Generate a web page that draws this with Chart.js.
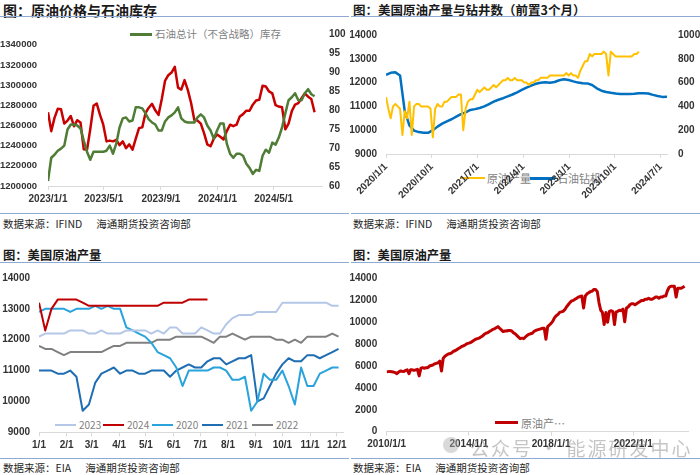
<!DOCTYPE html>
<html>
<head>
<meta charset="utf-8">
<script src="https://cdn.jsdelivr.net/npm/chart.js@4.4.1/dist/chart.umd.min.js"></script>
<style>
  body { margin: 0; background: #fff; }
  #page { position: relative; width: 700px; height: 475px; overflow: hidden; font-family: "Noto Sans CJK SC", "Liberation Sans", sans-serif; }
  .title { position: absolute; font-weight: bold; color: #1a1a1a; white-space: nowrap; line-height: 1; }
  .rule { position: absolute; height: 1px; background: #8eaad2; }
  .src { position: absolute; font-size: 10.5px; line-height: 1; color: #262626; white-space: nowrap; }
  .src span { margin-left: 14px; }
  canvas { position: absolute; z-index: 2; }
  .swatch { position: absolute; z-index: 1; }
  .keytext { position: absolute; z-index: 1; line-height: 14px; color: #7f7f7f; white-space: nowrap; }
  .mark { position: absolute; z-index: 3; color: rgba(140,140,140,0.5); white-space: nowrap; }
</style>
</head>
<body>
<div id="page">
  <div class="title" style="left:3px; top:3px; font-size:14px">图：原油价格与石油库存</div>
  <div class="title" style="left:353px; top:4px; font-size:12.5px">图：美国原油产量与钻井数（前置3个月）</div>
  <div class="title" style="left:3px; top:249px; font-size:12.3px">图：美国原油产量</div>
  <div class="title" style="left:353px; top:249px; font-size:12.3px">图：美国原油产量</div>

  <div class="rule" style="left:0; top:16px; width:349px"></div>
  <div class="rule" style="left:351px; top:16px; width:349px"></div>
  <div class="rule" style="left:0; top:213px; width:349px"></div>
  <div class="rule" style="left:351px; top:213px; width:349px"></div>
  <div class="rule" style="left:0; top:262px; width:349px"></div>
  <div class="rule" style="left:351px; top:262px; width:349px"></div>
  <div class="rule" style="left:0; top:458px; width:349px"></div>
  <div class="rule" style="left:351px; top:458px; width:349px"></div>

  <div class="src" style="left:3px; top:219px">数据来源：IFIND<span>海通期货投资咨询部</span></div>
  <div class="src" style="left:353px; top:219px">数据来源：IFIND<span>海通期货投资咨询部</span></div>
  <div class="src" style="left:3px; top:463px">数据来源：EIA<span>海通期货投资咨询部</span></div>
  <div class="src" style="left:353px; top:463px">数据来源：EIA<span>海通期货投资咨询部</span></div>

  <canvas id="c1" width="350" height="194" style="left:0; top:18px"></canvas>
  <canvas id="c2" width="350" height="194" style="left:350px; top:18px"></canvas>
  <canvas id="c3" width="350" height="195" style="left:0; top:263px"></canvas>
  <canvas id="c4" width="350" height="195" style="left:350px; top:263px"></canvas>

  <div class="mark" style="left:443px; top:437px; width:16px; height:16px; border-radius:50%; background:rgba(170,170,170,0.45)"></div>
  <div class="mark" style="left:470px; top:434px; font-size:19px; letter-spacing:2px">公众号 · 能源研发中心</div>
</div>

<script>
// chart 1: 原油价格与石油库存, weekly from 2023/1/1
const c1Ticks = ['2023/1/1', '2023/5/1', '2023/9/1', '2024/1/1', '2024/5/1'];
const c1StockTicks = [1200000, 1220000, 1240000, 1260000, 1280000, 1300000, 1320000, 1340000];
const c1PriceTicks = [60, 65, 70, 75, 80, 85, 90, 95, 100];
const c1Stocks = [
  1205000, 1228000, 1231000, 1235000, 1237000, 1240000, 1256000, 1261000, 1261000, 1260000,
  1257000, 1245000, 1234000, 1226000, 1234000, 1234000, 1234000, 1234000, 1235000, 1240000,
  1232000, 1242000, 1258000, 1267000, 1268000, 1264000, 1265000, 1278000, 1278000, 1277000,
  1272000, 1266000, 1263000, 1261000, 1255000, 1255000, 1264000, 1268000, 1270000, 1273000,
  1278000, 1267000, 1264000, 1263000, 1263000, 1263000, 1268000, 1271000, 1268000, 1260000,
  1255000, 1247000, 1255000, 1262000, 1262000, 1242000, 1232000, 1228000, 1232000, 1232000,
  1230000, 1222000, 1218000, 1212000, 1216000, 1215000, 1230000, 1236000, 1233000, 1243000,
  1241000, 1248000, 1258000, 1272000, 1285000, 1288000, 1292000, 1285000, 1285000, 1292000,
  1296000, 1291000, 1289000
];
const c1Price = [
  79.5, 74.5, 78, 80.4, 80.3, 76.5, 77.3, 78.5, 75.8, 77.4,
  76.8, 69.7, 69.6, 75, 81.2, 81.8, 78.8, 76.2, 71.8, 72,
  71.8, 72.2, 70.8, 71.8, 70, 71, 69.6, 72.5, 75.3, 75.5,
  79.3, 80.7, 81.7, 80, 78.8, 83, 87.8, 89.3, 90, 91.5,
  86, 85.5, 88, 85.4, 82, 77.5, 77.3, 76.5, 74, 71,
  70.5, 72.5, 73.6, 73, 72.3, 74.5, 76.2, 75.8, 76.2, 78.4,
  79, 79.9, 79.9, 81.5, 82.6, 82.8, 86.5, 86.3, 85, 84.5,
  81.4, 81, 80.8, 75, 76.5, 79.8, 81.5, 81.9, 83.2, 84.5,
  83.6, 83, 79.5
];

// chart 2: 美国原油产量 (every 2 weeks) 与钻井数 (every 4 weeks), from 2020/1/1
const c2Ticks = ['2020/1/1', '2020/10/1', '2021/7/1', '2022/4/1', '2023/1/1', '2023/10/1', '2024/7/1'];
const c2OutputTicks = [9000, 10000, 11000, 12000, 13000, 14000];
const c2RigTicks = [0, 200, 400, 600, 800, 1000];
const c2Output = [
  11400, 10900, 10500, 11000, 11100, 11000, 10900, 9800, 10800, 10500,
  11200, 9800, 11000, 11100, 11100, 11000, 11000, 11000, 11000, 10900,
  9700, 10900, 11100, 11000, 11000, 11200, 11200, 11300, 11400, 11400,
  11400, 11500, 11500, 10000, 10900, 11200, 11300, 11300, 11500, 11700,
  11600, 11700, 11800, 11700, 11700, 11800, 11900, 11800, 11900, 12000,
  12100, 12100, 12200, 12100, 12100, 12200, 12100, 12100, 12100, 12000,
  12000, 11900, 12000, 12000, 12100, 12100, 12200, 12200, 12200, 12200,
  12300, 12300, 12300, 12300, 12300, 12300, 12300, 12400, 12300, 12400,
  12300, 12300, 12200, 12500, 12700, 12900, 12900, 13200, 13100, 13200,
  13200, 13200, 13200, 13300, 13200, 12300, 13300, 13200, 13100, 13100,
  13100, 13100, 13100, 13100, 13100, 13100, 13200, 13200, 13300
];
const c2Rigs = [
  666, 682, 686, 660, 360, 240, 196, 184, 178, 178,
  200, 230, 255, 275, 292, 314, 335, 350, 370, 377,
  387, 400, 420, 440, 456, 469, 484, 500, 518, 538,
  558, 575, 590, 599, 602, 598, 605, 620, 628, 622,
  610, 600, 594, 593, 580, 552, 532, 521, 514, 508,
  505, 505, 505, 507, 510, 510, 508, 497, 488, 480,
  482
];

// chart 3: 美国原油产量 by year, weekly from 1/1
const c3Ticks = ['1/1', '2/1', '3/1', '4/1', '5/1', '6/1', '7/1', '8/1', '9/1', '10/1', '11/1', '12/1'];
const c3ValueTicks = [9000, 10000, 11000, 12000, 13000, 14000];
const c3Years = ['2023', '2024', '2020', '2021', '2022'];
const c3Y2023 = [
  12100, 12200, 12200, 12200, 12200, 12300, 12300, 12300, 12200, 12200,
  12300, 12200, 12200, 12200, 12300, 12300, 12300, 12300, 12200, 12300,
  12200, 12400, 12400, 12200, 12200, 12200, 12400, 12300, 12200, 12200,
  12500, 12700, 12800, 12800, 12800, 12900, 12900, 12900, 12900, 13200,
  13200, 13200, 13200, 13200, 13200, 13200, 13200, 13100, 13100
];
const c3Y2024 = [
  13200, 12300, 13000, 13300, 13300, 13300, 13300, 13200, 13100, 13100,
  13100, 13100, 13100, 13100, 13100, 13100, 13100, 13100, 13100, 13100,
  13200, 13200, 13200, 13200, 13300, 13300, 13300, 13300
];
const c3Y2020 = [
  12900, 13000, 13000, 13000, 13000, 12900, 13000, 13000, 13000, 13100,
  13000, 13100, 13000, 13000, 12400, 12300, 12200, 12100, 11900, 11600,
  11500, 11400, 11100, 10500, 11000, 11000, 11000, 11000, 11100, 11100,
  11000, 10700, 10700, 10800, 9700, 10000, 10900, 10700, 10700, 11000,
  10500, 9900, 11100, 10500, 10500, 10900, 11000, 11100, 11100
];
const c3Y2021 = [
  11000, 11000, 11000, 10900, 10900, 11000, 10800, 9700, 9900, 10600,
  10900, 11000, 11100, 10900, 11000, 11000, 10900, 10900, 11000, 11000,
  11000, 10800, 11000, 11100, 11200, 11100, 11100, 11300, 11400, 11400,
  11200, 11300, 11400, 11400, 11500, 10000, 10100, 10500, 10900, 11200,
  11400, 11300, 11300, 11500, 11500, 11400, 11500, 11600, 11700
];
const c3Y2022 = [
  11800, 11700, 11700, 11600, 11500, 11600, 11600, 11600, 11600, 11600,
  11600, 11700, 11800, 11800, 11900, 11900, 11900, 11900, 11900, 12000,
  12000, 12000, 12100, 12100, 12100, 12100, 12100, 12000, 11900, 12100,
  12100, 12200, 12100, 12000, 12100, 12100, 12100, 12100, 12000, 12000,
  11900, 12000, 11900, 12100, 12100, 12100, 12100, 12200, 12100
];

// chart 4: 美国原油产量, monthly from 2010/1
const c4Ticks = ['2010/1/1', '2014/1/1', '2018/1/1', '2022/1/1'];
const c4ValueTicks = [0, 2000, 4000, 6000, 8000, 10000, 12000, 14000];
const c4Output = [
  5480, 5490, 5500, 5480, 5450, 5400, 5300, 5450, 5550, 5520, 5500, 5600,
  5650, 5300, 5650, 5650, 5600, 5650, 5700, 5100, 5800, 5850, 5800, 5850,
  5850, 6000, 6050, 6100, 6200, 6250, 6300, 6450, 5550, 6700, 6900, 7000,
  7100, 7150, 7200, 7350, 7400, 7500, 7600, 7700, 7800, 7850, 7950, 8050,
  8100, 8150, 8250, 8350, 8450, 8500, 8550, 8650, 8750, 8900, 9000, 9050,
  9150, 9250, 9350, 9400, 9500, 9600, 9450, 9300, 9150, 9200, 9200, 9250,
  9250, 9200, 9050, 8950, 8800, 8650, 8500, 8550, 8500, 8650, 8800, 8900,
  8950, 9000, 9150, 9250, 9300, 9350, 9400, 9450, 9450, 8450, 9600, 9750,
  9900, 10100, 10400, 10600, 10700, 10900, 10950, 11000, 11150, 11400, 11600, 11800,
  11950, 12000, 12100, 12200, 12300, 12350, 12400, 11300, 12400, 12600, 12700, 12800,
  12850, 13000, 13000, 12800, 11800, 11100, 10900, 9800, 10900, 10000, 11000, 11050,
  11000, 9800, 10950, 11000, 11100, 11050, 11200, 10050, 11300, 11400, 11600, 11700,
  11700, 11600, 11700, 11800, 11900, 12000, 12000, 12100, 12100, 12200, 12100, 12100,
  12200, 12300, 12300, 12200, 12300, 12300, 12400, 12400, 12900, 13200, 13300, 13300,
  13300, 12300, 13100, 13100, 13100, 13200, 13300
];

const DAY = 86400000;

function toDay(label, base) {
  const p = label.split('/').map(Number);
  return Math.round((Date.UTC(p[0], p[1] - 1, p[2]) - base) / DAY);
}

function every(values, step) {
  return values.map((v, i) => ({ x: i * step, y: v }));
}

Chart.defaults.font.family = '"Liberation Sans", Arial, sans-serif';

function xAxis(tickDays, tickLabels, max, height, rotate) {
  return {
    type: 'linear', min: 0, max: max,
    afterBuildTicks: axis => { axis.ticks = tickDays.map(v => ({ value: v })); },
    afterFit: axis => { axis.height = height; },
    grid: { display: true, drawOnChartArea: false, drawTicks: true, tickLength: 4, color: '#d9d9d9' },
    border: { display: true, color: '#d9d9d9' },
    ticks: {
      autoSkip: false, padding: 3, maxRotation: rotate, minRotation: rotate,
      color: '#333', font: { size: 10, weight: 'bold' },
      callback: (v, i) => tickLabels[i]
    }
  };
}

function yAxis(pos, ticks, width, pad, size, top) {
  return {
    type: 'linear', position: pos, min: ticks[0], max: top || ticks[ticks.length - 1],
    afterBuildTicks: axis => { axis.ticks = ticks.map(v => ({ value: v })); },
    afterFit: axis => { axis.width = width; },
    grid: { display: false, drawTicks: false },
    border: { display: false },
    ticks: { padding: pad, color: '#333', font: { size: size, weight: 'bold' }, callback: v => String(v) }
  };
}

function options(padding, scales) {
  return {
    responsive: false, animation: false, devicePixelRatio: 1,
    layout: { padding: padding },
    plugins: { legend: { display: false }, tooltip: { enabled: false } },
    elements: { point: { radius: 0 }, line: { tension: 0, borderJoinStyle: 'round' } },
    scales: scales
  };
}

function line(data, color, width, axis) {
  return { data: data, borderColor: color, borderWidth: width, yAxisID: axis || 'y', fill: false };
}

// chart 1
const base1 = Date.UTC(2023, 0, 1);
new Chart(document.getElementById('c1'), {
  type: 'line',
  data: { datasets: [
    line(every(c1Stocks, 7), '#4f7d35', 2.5, 'y'),
    line(every(c1Price, 7), '#c80000', 2.5, 'y1')
  ] },
  options: options({ top: 16.3, left: 0, right: 0, bottom: 0 }, {
    x: xAxis(c1Ticks.map(t => toDay(t, base1)), c1Ticks, 590, 26, 0),
    y: yAxis('left', c1StockTicks, 48, 11, 9.5, 1350000),
    y1: yAxis('right', c1PriceTicks, 28, 7, 10)
  })
});

// chart 2
const base2 = Date.UTC(2020, 0, 1);
new Chart(document.getElementById('c2'), {
  type: 'line',
  data: { datasets: [
    line(every(c2Output, 14), '#ffc000', 2, 'y'),
    line(every(c2Rigs, 28), '#0070c0', 2.5, 'y1')
  ] },
  options: options({ top: 12.7, left: 0, right: 0, bottom: 0 }, {
    x: xAxis(c2Ticks.map(t => toDay(t, base2)), c2Ticks, 1680, 58, 45),
    y: yAxis('left', c2OutputTicks, 36, 9, 10),
    y1: yAxis('right', c2RigTicks, 33, 11, 10)
  })
});

// chart 3
const base3 = Date.UTC(2023, 0, 1);
const c3Colors = ['#b4c7e7', '#c00000', '#29a3dc', '#1f6db3', '#808080'];
const c3Series = [c3Y2023, c3Y2024, c3Y2020, c3Y2021, c3Y2022];
new Chart(document.getElementById('c3'), {
  type: 'line',
  data: { datasets: c3Series.map((s, i) => line(every(s, 7), c3Colors[i], 2)) },
  options: options({ top: 13.7, left: 0, right: 7, bottom: 0 }, {
    x: xAxis(c3Ticks.map(t => toDay('2023/' + t, base3)), c3Ticks, 341, 25.7, 0),
    y: yAxis('left', c3ValueTicks, 39, 9, 10)
  })
});

// chart 4
const base4 = Date.UTC(2010, 0, 1);
new Chart(document.getElementById('c4'), {
  type: 'line',
  data: { datasets: [
    line(c4Output.map((v, i) => ({ x: (Date.UTC(2010, i, 1) - base4) / DAY, y: v })), '#c00000', 3)
  ] },
  options: options({ top: 13, left: 0, right: 12, bottom: 0 }, {
    x: xAxis(c4Ticks.map(t => toDay(t, base4)), c4Ticks, 5355, 26.3, 0),
    y: yAxis('left', c4ValueTicks, 36.7, 9.5, 10)
  })
});

// legends
function key(x, y, w, color, thick, text, textX, size) {
  const page = document.getElementById('page');
  const sw = document.createElement('div');
  sw.className = 'swatch';
  sw.style.cssText = 'left:' + x + 'px;top:' + (y - thick / 2) + 'px;width:' + w + 'px;height:' + thick + 'px;background:' + color;
  page.appendChild(sw);
  const label = document.createElement('div');
  label.className = 'keytext';
  label.style.cssText = 'left:' + textX + 'px;top:' + (y - 7) + 'px;font-size:' + size + 'px';
  label.textContent = text;
  page.appendChild(label);
}

key(130, 34.3, 22, '#4f7d35', 2.5, '石油总计（不含战略）库存', 155, 10.5);
key(460, 178, 25, '#ffc000', 2.5, '原油产量', 487, 11);
key(530, 178, 25, '#0070c0', 3, '石油钻机', 557, 11);
const c3KeyX = [55, 103, 152, 202, 252];
c3Years.forEach((y, i) => key(c3KeyX[i], 425, 21, c3Colors[i], 2.5, y, c3KeyX[i] + 24, 10));
key(495, 422.7, 23, '#c00000', 2.5, '原油产…', 521, 11);
</script>
</body>
</html>
